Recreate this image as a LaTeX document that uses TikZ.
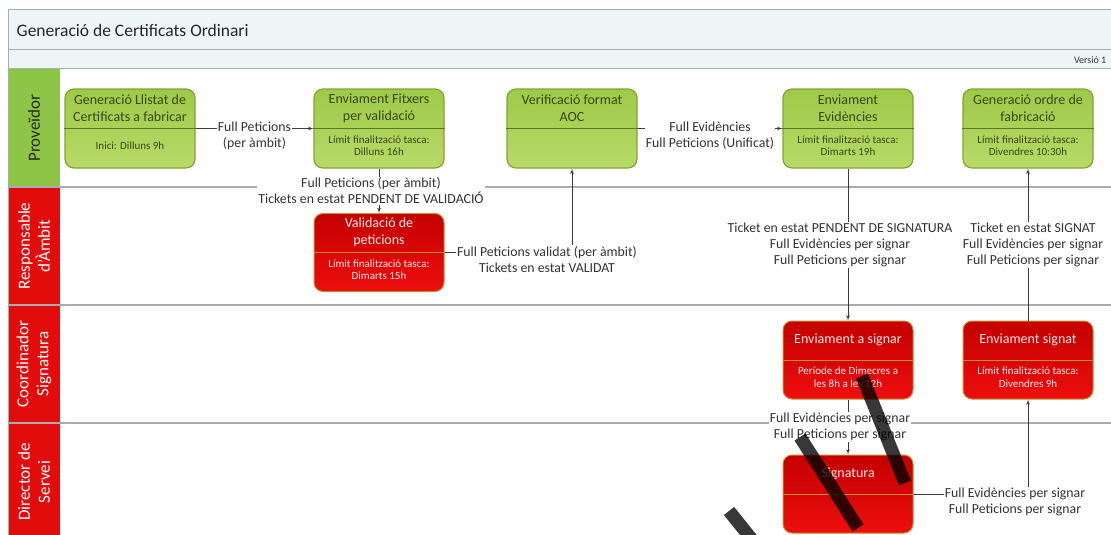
\documentclass[tikz,border=0pt]{standalone}
\usepackage{fontspec}
\setmainfont{Carlito}
\usepackage{tikz}
\usetikzlibrary{positioning}
\usetikzlibrary{shapes, backgrounds}
\usetikzlibrary{arrows}
\usetikzlibrary{calc}
\tikzstyle{line} = [draw, -latex']
\definecolor{verd}{RGB}{141,198,70}
\definecolor{verdA}{RGB}{158,202,72}
\definecolor{verdB}{RGB}{184,218,104}
\definecolor{verdfosc}{RGB}{128,164,52}
\definecolor{verdlinia}{RGB}{92,118,34}
\definecolor{textverd}{RGB}{58,70,22}
\definecolor{vermell}{RGB}{226,12,12}
\definecolor{vermellA}{RGB}{196,0,0}
\definecolor{vermellB}{RGB}{238,14,14}
\definecolor{daurat}{RGB}{196,140,48}
\definecolor{capcal}{RGB}{237,245,247}
\definecolor{gris}{RGB}{168,172,175}
\definecolor{fletxa}{RGB}{60,60,60}

\begin{document}
\begin{tikzpicture}[x=1pt, y=-1pt, thick,
		lanecol/.style = {rotate=90, minimum width=118pt,
			minimum height=52pt, inner sep=0pt, align=center,
			font=\fontsize{17}{20}\selectfont},
		sep/.style = {draw=gris, line width=1.4pt},
		greentask/.style = {rounded corners=9pt, minimum width=130pt,
			minimum height=79pt, draw=verdfosc, line width=1.2pt,
			top color=verdA, bottom color=verdB},
		redtask/.style = {rounded corners=9pt, minimum width=130pt,
			minimum height=78pt, draw=daurat, line width=1pt,
			top color=vermellA, bottom color=vermellB},
		greentitle/.style = {align=center, text=textverd,
			font=\fontsize{14}{17}\selectfont},
		greennote/.style = {align=center, text=textverd,
			font=\fontsize{11}{12.5}\selectfont},
		redtitle/.style = {align=center, text=white!92!red,
			font=\fontsize{14}{17}\selectfont},
		rednote/.style = {align=center, text=white!92!red,
			font=\fontsize{11}{12.5}\selectfont},
		lbl/.style = {fill=white, align=center, inner sep=1pt,
			text=black!80, font=\fontsize{13.8}{16}\selectfont},
		every path/.append style = {color=fletxa}]
		
		\useasboundingbox (0,0) rectangle (1111,535);
		
		% Header
		\draw[draw=gris, fill=capcal, line width=1pt] (8,10) rectangle (1120,50);
		\draw[draw=gris, fill=capcal, line width=1pt] (8,50) rectangle (1120,69);
		\node[anchor=west, text=black!85, font=\fontsize{17.5}{19}\selectfont] (titol) at (13,30) {Generació de Certificats Ordinari};
		\node[anchor=east, text=black!80, font=\fontsize{10}{11}\selectfont] (versio) at (1110,60) {Versió 1};
		
		% Lanes
		\node[lanecol, fill=verd, text=black!85] (L1) at (34,128) {Proveïdor};
		\node[lanecol, fill=vermell, text=white] (L2) at (34,246) {Responsable\\d'Àmbit};
		\node[lanecol, fill=vermell, text=white] (L3) at (34,364) {Coordinador\\Signatura};
		\node[lanecol, fill=vermell, text=white] (L4) at (34,482) {Director de\\Servei};
		\draw[draw=gris, line width=1pt] (8,69) -- (8,540);
		\draw[sep] (8,187) -- (1120,187);
		\draw[sep] (8,305) -- (1120,305);
		\draw[sep] (8,423) -- (1120,423);
		
		% Proveidor tasks
		\node[greentask] (G1) at (130,128.5) {};
		\node[greentask] (G2) at (379,128.5) {};
		\node[greentask] (G3) at (572,128.5) {};
		\node[greentask] (G4) at (848,128.5) {};
		\node[greentask] (G5) at (1028,128.5) {};
		\foreach \t in {G1,G2,G3,G4,G5}
			\draw[draw=verdlinia, line width=0.8pt] (\t.west) -- (\t.east);
		
		\node[greentitle] (G1t) at ([yshift=20pt]G1.center) {Generació Llistat de\\Certificats a fabricar};
		\node[greennote] (G1n) at ([yshift=-17pt]G1.center) {Inici: Dilluns 9h};
		\node[greentitle] (G2t) at ([yshift=20pt]G2.center) {Enviament Fitxers\\per validació};
		\node[greennote] (G2n) at ([yshift=-17pt]G2.center) {Límit finalització tasca:\\Dilluns 16h};
		\node[greentitle] (G3t) at ([yshift=20pt]G3.center) {Verificació format\\AOC};
		\node[greentitle] (G4t) at ([yshift=20pt]G4.center) {Enviament\\Evidències};
		\node[greennote] (G4n) at ([yshift=-17pt]G4.center) {Límit finalització tasca:\\Dimarts 19h};
		\node[greentitle] (G5t) at ([yshift=20pt]G5.center) {Generació ordre de\\fabricació};
		\node[greennote] (G5n) at ([yshift=-17pt]G5.center) {Límit finalització tasca:\\Divendres 10:30h};
		
		% Red tasks
		\node[redtask] (R1) at (379,252.5) {};
		\node[redtask] (R2) at (848,360) {};
		\node[redtask] (R3) at (1028,360) {};
		\node[redtask] (R4) at (848,494) {};
		\foreach \t in {R1,R2,R3,R4}
			\draw[draw=daurat, line width=0.8pt] (\t.west) -- (\t.east);
		
		\node[redtitle] (R1t) at ([yshift=20pt]R1.center) {Validació de\\peticions};
		\node[rednote] (R1n) at ([yshift=-17pt]R1.center) {Límit finalització tasca:\\Dimarts 15h};
		\node[redtitle] (R2t) at ([yshift=20pt]R2.center) {Enviament a signar};
		\node[rednote] (R2n) at ([yshift=-17pt]R2.center) {Període de Dimecres a\\les 8h a les 12h};
		\node[redtitle] (R3t) at ([yshift=20pt]R3.center) {Enviament signat};
		\node[rednote] (R3n) at ([yshift=-17pt]R3.center) {Límit finalització tasca:\\Divendres 9h};
		\node[redtitle] (R4t) at ([yshift=20pt]R4.center) {Signatura};
		
		% Flows
		\draw[line] (G1.east) -- node[lbl, yshift=-7pt] (f1) {Full Peticions\\(per àmbit)} (G2.west);
		\draw[line] (G2.south) -- node[lbl, xshift=-8pt] (f2) {Full Peticions (per àmbit)\\Tickets en estat PENDENT DE VALIDACIÓ} (R1.north);
		\draw[line] (R1.east) -| node[lbl, pos=0.5, xshift=-25pt, yshift=-7pt] (f3) {Full Peticions validat (per àmbit)\\Tickets en estat VALIDAT} (G3.south);
		\draw[line] (G3.east) -- node[lbl, yshift=-7pt] (f4) {Full Evidències\\Full Peticions (Unificat)} (G4.west);
		\draw[line] (G4.south) -- node[lbl, xshift=-8pt] (f5) {Ticket en estat PENDENT DE SIGNATURA\\Full Evidències per signar\\Full Peticions per signar} (R2.north);
		\draw[line] (R2.south) -- node[lbl, xshift=-8pt] (f6) {Full Evidències per signar\\Full Peticions per signar} (R4.north);
		\draw[line] (R4.east) -| node[lbl, pos=0.5, xshift=-13pt, yshift=-8pt] (f7) {Full Evidències per signar\\Full Peticions per signar} (R3.south);
		\draw[line] (R3.north) -- node[lbl, xshift=5pt] (f8) {Ticket en estat SIGNAT\\Full Evidències per signar\\Full Peticions per signar} (G5.south);
		
		% watermark
		\draw[black, opacity=0.78, line width=13pt] (862,376) -- (905,483);
		\draw[black, opacity=0.78, line width=13pt] (800,437) -- (858,528);
		\draw[black, opacity=0.78, line width=13pt] (729,511) -- (754,542);
		
\end{tikzpicture}
\end{document}
